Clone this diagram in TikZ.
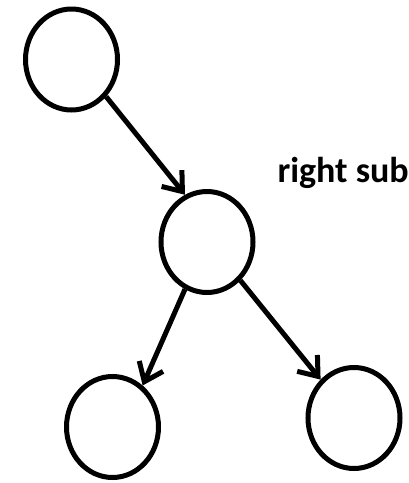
\documentclass[tikz,border=0pt]{standalone}
\usepackage{fontspec}
\setmainfont{Carlito}
\usepackage{tikz}
\usetikzlibrary{shapes.geometric, arrows.meta}
\tikzstyle{arrow} = [line width=5pt,-{Straight Barb[length=17pt,width=26pt]}]

\begin{document}
\begin{tikzpicture}[x=1pt, y=-1pt, every node/.style={ellipse, draw, line width=5pt, minimum width=92pt, minimum height=101pt, inner sep=0pt}]
        \useasboundingbox (0,0) rectangle (408,483);
        % Node positions
        \node (root) at (71.5,59.5) {};
        \node (mid) at (207,242) {};
        \node (lft) at (112.5,427) {};
        \node (rgt) at (354,418) {};

        \node[draw=none, rectangle, minimum size=0pt, anchor=base west, font=\bfseries\fontsize{36}{41}\selectfont] (lbl) at (275,182) {right sub};

        \draw[arrow] (root.-47) -- (mid.115);
        \draw[arrow] (mid.-115) -- (lft.54);
        \draw[arrow] (mid.-49) -- (rgt.131);
      \end{tikzpicture}
\end{document}
